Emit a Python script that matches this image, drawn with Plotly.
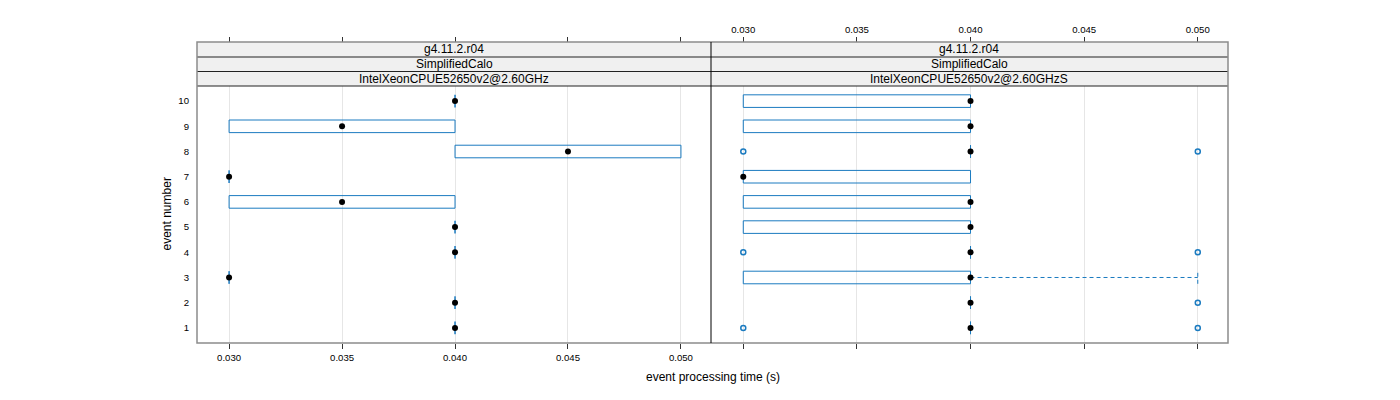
import plotly.graph_objects as go

# ---------------- data ----------------
events = [1, 2, 3, 4, 5, 6, 7, 8, 9, 10]
tick_vals = [0.030, 0.035, 0.040, 0.045, 0.050]
tick_text = ["0.030", "0.035", "0.040", "0.045", "0.050"]

strip_labels_left = ["g4.11.2.r04", "SimplifiedCalo", "IntelXeonCPUE52650v2@2.60GHz"]
strip_labels_right = ["g4.11.2.r04", "SimplifiedCalo", "IntelXeonCPUE52650v2@2.60GHzS"]

# left panel (per event 1..10)
left_q1 = [0.040, 0.040, 0.030, 0.040, 0.040, 0.030, 0.030, 0.040, 0.030, 0.040]
left_med = [0.040, 0.040, 0.030, 0.040, 0.040, 0.035, 0.030, 0.045, 0.035, 0.040]
left_q3 = [0.040, 0.040, 0.030, 0.040, 0.040, 0.040, 0.030, 0.050, 0.040, 0.040]
left_lo = left_q1
left_hi = left_q3
left_out_x = []
left_out_y = []

# right panel
right_q1 = [0.040, 0.040, 0.030, 0.040, 0.030, 0.030, 0.030, 0.040, 0.030, 0.030]
right_med = [0.040, 0.040, 0.040, 0.040, 0.040, 0.040, 0.030, 0.040, 0.040, 0.040]
right_q3 = [0.040, 0.040, 0.040, 0.040, 0.040, 0.040, 0.040, 0.040, 0.040, 0.040]
right_lo = right_q1
right_hi = [0.040, 0.040, 0.050, 0.040, 0.040, 0.040, 0.040, 0.040, 0.040, 0.040]
right_out_x = [0.030, 0.050, 0.050, 0.030, 0.050, 0.030, 0.050]
right_out_y = [1, 1, 2, 4, 4, 8, 8]

# ---------------- layout helpers ----------------
OFF = 8  # page body margin
W, H = 1392, 384
def px(x):
    return (x - OFF) / W
def py(y):
    return 1 - (y - OFF) / H

BLUE = "#1B7BC0"
FONT = "Liberation Sans, Arial, sans-serif"
HALF = 0.25  # half box height in event units

PL, PM, PR = 197, 711, 1228   # panel x edges (pixels)
ST, PT, PB = 42, 86, 343      # strip top, panel top, panel bottom
XR = [0.02858, 0.05133]
YR = [0.4, 10.6]

fig = go.Figure()

def add_panel(xa, q1, med, q3, lo, hi, ox, oy):
    bx, by = [], []
    for e, a, b in zip(events, q1, q3):
        bx += [a, b, b, a, a, None]
        by += [e - HALF, e - HALF, e + HALF, e + HALF, e - HALF, None]
    fig.add_trace(go.Scatter(x=bx, y=by, mode="lines", xaxis=xa, yaxis="y",
                             line=dict(color=BLUE, width=1), hoverinfo="skip",
                             showlegend=False))
    wx, wy = [], []
    for e, a, l, b, h in zip(events, q1, lo, q3, hi):
        if l < a:
            wx += [l, a, None, l, l, None]
            wy += [e, e, None, e - HALF, e + HALF, None]
        if h > b:
            wx += [b, h, None, h, h, None]
            wy += [e, e, None, e - HALF, e + HALF, None]
    if wx:
        fig.add_trace(go.Scatter(x=wx, y=wy, mode="lines", xaxis=xa, yaxis="y",
                                 line=dict(color=BLUE, width=1, dash="4px,3px"),
                                 hoverinfo="skip", showlegend=False))
    if ox:
        fig.add_trace(go.Scatter(x=ox, y=oy, mode="markers", xaxis=xa, yaxis="y",
                                 marker=dict(symbol="circle-open", size=5, color=BLUE,
                                             line=dict(width=1.5, color=BLUE)),
                                 showlegend=False))
    fig.add_trace(go.Scatter(x=med, y=events, mode="markers", xaxis=xa, yaxis="y",
                             marker=dict(symbol="circle", size=6, color="black"),
                             showlegend=False))

add_panel("x", left_q1, left_med, left_q3, left_lo, left_hi, left_out_x, left_out_y)
add_panel("x2", right_q1, right_med, right_q3, right_lo, right_hi, right_out_x, right_out_y)

# empty traces so the top (alternating) axes get drawn
for xa in ("x3", "x4"):
    fig.add_trace(go.Scatter(x=[None], y=[None], xaxis=xa, yaxis="y", mode="markers",
                             showlegend=False, hoverinfo="skip"))

tickfont = dict(family=FONT, size=9.6, color="black")
common_x = dict(range=XR, tickvals=tick_vals, ticktext=tick_text, ticks="outside",
                ticklen=5, tickcolor="#333333", tickwidth=1, zeroline=False,
                showline=False, tickfont=tickfont)

fig.update_layout(
    width=W, height=H,
    margin=dict(l=0, r=0, t=0, b=0),
    paper_bgcolor="white", plot_bgcolor="white",
    showlegend=False,
    xaxis=dict(domain=[px(PL), px(PM)], anchor="y", side="bottom",
               showgrid=True, gridcolor="#E6E6E6", gridwidth=1,
               showticklabels=True, **common_x),
    xaxis2=dict(domain=[px(PM), px(PR)], anchor="y", side="bottom",
                showgrid=True, gridcolor="#E6E6E6", gridwidth=1,
                showticklabels=False, **common_x),
    xaxis3=dict(domain=[px(PL), px(PM)], overlaying="x", anchor="free",
                position=py(ST), side="top", showgrid=False,
                showticklabels=False, **common_x),
    xaxis4=dict(domain=[px(PM), px(PR)], overlaying="x2", anchor="free",
                position=py(ST), side="top", showgrid=False,
                showticklabels=True, **common_x),
    yaxis=dict(domain=[py(PB), py(PT)], range=YR, anchor="x",
               tickvals=events, ticktext=[str(e) for e in events],
               ticks="", showgrid=False, zeroline=False, showline=False,
               ticklabelstandoff=7, tickfont=tickfont),
)

shapes = []
# strips
row_edges = [ST, 57, 71.5, PT]
for (x0, x1) in [(PL, PM), (PM, PR)]:
    shapes.append(dict(type="rect", xref="paper", yref="paper",
                       x0=px(x0), x1=px(x1), y0=py(PT), y1=py(ST),
                       fillcolor="#F0F0F0", line=dict(width=0), layer="below"))
for yy in row_edges[1:]:
    shapes.append(dict(type="line", xref="paper", yref="paper",
                       x0=px(PL), x1=px(PR), y0=py(yy), y1=py(yy),
                       line=dict(color="#222222", width=1)))
# outer frame
shapes.append(dict(type="rect", xref="paper", yref="paper",
                   x0=px(PL), x1=px(PR), y0=py(PB), y1=py(ST),
                   line=dict(color="#8C8C8C", width=1.5)))
# divider between panels
shapes.append(dict(type="line", xref="paper", yref="paper",
                   x0=px(PM), x1=px(PM), y0=py(PB), y1=py(ST),
                   line=dict(color="black", width=1)))
fig.update_layout(shapes=shapes)

annotations = []
for labels, (x0, x1) in [(strip_labels_left, (PL, PM)), (strip_labels_right, (PM, PR))]:
    for i, lab in enumerate(labels):
        yc = (row_edges[i] + row_edges[i + 1]) / 2
        annotations.append(dict(text=lab, xref="paper", yref="paper",
                                x=px((x0 + x1) / 2), y=py(yc), showarrow=False,
                                xanchor="center", yanchor="middle",
                                font=dict(family=FONT, size=12, color="black")))
annotations.append(dict(text="event processing time (s)", xref="paper", yref="paper",
                        x=px((PL + PR) / 2), y=py(377), showarrow=False,
                        xanchor="center", yanchor="middle",
                        font=dict(family=FONT, size=12, color="black")))
annotations.append(dict(text="event number", xref="paper", yref="paper",
                        x=px(166), y=py((PT + PB) / 2), showarrow=False, textangle=-90,
                        xanchor="center", yanchor="middle",
                        font=dict(family=FONT, size=12, color="black")))
fig.update_layout(annotations=annotations)

fig.write_html("out.html")
